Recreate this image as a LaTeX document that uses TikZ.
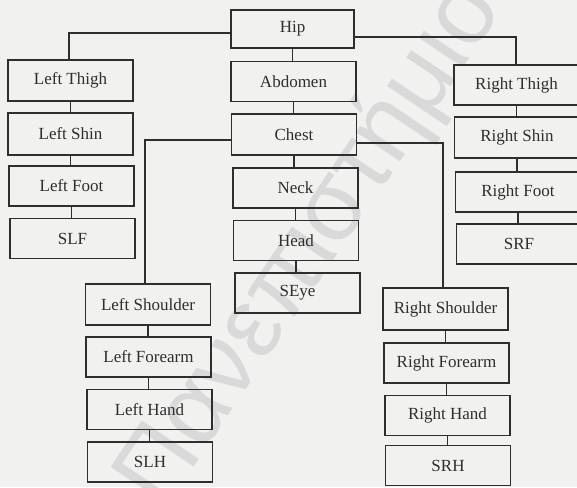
\documentclass[tikz,border=0pt]{standalone}
\usepackage{fontspec}
\setmainfont{Liberation Serif}
\newfontfamily\wmfont{Liberation Sans}
\definecolor{bg}{HTML}{F1F1F0}
\definecolor{ink}{HTML}{2E2E2E}
\definecolor{wm}{HTML}{D9D9D9}
\begin{document}
\begin{tikzpicture}[x=1pt,y=-1pt,
  part/.style={draw=ink,line width=1.3pt,minimum width=125pt,minimum height=40pt,
    inner sep=0pt,text=ink,font=\fontsize{17}{20}\selectfont},
  link/.style={draw=ink,line width=1.3pt}]
\fill[bg] (0,0) rectangle (577,487);
\useasboundingbox (0,0) rectangle (577,487);
\begin{scope}
\clip (0,0) rectangle (577,487);
\node[text=wm,font=\wmfont\fontsize{100}{110}\selectfont,rotate=56,anchor=base west,inner sep=0pt] (wmark) at (163,513) {Πανεπιστήμιο};
\end{scope}
% spine
\node[part,minimum width=123pt,minimum height=38pt] (hip) at (292.5,29) {Hip};
\node[part] (abd) at (293.5,81.5) {Abdomen};
\node[part,minimum height=41pt] (chest) at (294,134.5) {Chest};
\node[part] (neck) at (295.5,188) {Neck};
\node[part] (head) at (296,240.5) {Head};
\node[part] (seye) at (297.5,293) {SEye};
% left leg
\node[part,minimum height=41pt] (lthigh) at (70.5,80.5) {Left Thigh};
\node[part,minimum height=42pt] (lshin) at (70.5,134) {Left Shin};
\node[part] (lfoot) at (71.5,186) {Left Foot};
\node[part] (slf) at (72.5,238.5) {SLF};
% right leg
\node[part] (rthigh) at (516.5,85) {Right Thigh};
\node[part,minimum height=41pt] (rshin) at (517,137.5) {Right Shin};
\node[part] (rfoot) at (518,192) {Right Foot};
\node[part] (srf) at (519,244) {SRF};
% left arm
\node[part,minimum height=41pt] (lsho) at (148,304.5) {Left Shoulder};
\node[part] (lfore) at (148.5,357) {Left Forearm};
\node[part] (lhand) at (149.5,409.5) {Left Hand};
\node[part] (slh) at (150,462) {SLH};
% right arm
\node[part,minimum height=42pt] (rsho) at (445.5,309) {Right Shoulder};
\node[part] (rfore) at (446.5,363) {Right Forearm};
\node[part] (rhand) at (447.5,415.5) {Right Hand};
\node[part] (srh) at (448,465.5) {SRH};
% connectors
\draw[link] (hip.south) -- (hip.south |- abd.north);
\draw[link] (abd.south) -- (abd.south |- chest.north);
\draw[link] (chest.south) -- (chest.south |- neck.north);
\draw[link] (neck.south) -- (neck.south |- head.north);
\draw[link] (head.south) -- (head.south |- seye.north);
\draw[link] ([yshift=-4pt]hip.west) -| ([xshift=-1.5pt]lthigh.north);
\draw[link] ([yshift=-8pt]hip.east) -| ([xshift=-0.5pt]rthigh.north);
\draw[link] ([yshift=-5.5pt]chest.west) -| ([xshift=-3pt]lsho.north);
\draw[link] ([yshift=-8.5pt]chest.east) -| ([xshift=-2.5pt]rsho.north);
\draw[link] (lthigh.south) -- (lthigh.south |- lshin.north);
\draw[link] (lshin.south) -- (lshin.south |- lfoot.north);
\draw[link] (lfoot.south) -- (lfoot.south |- slf.north);
\draw[link] (rthigh.south) -- (rthigh.south |- rshin.north);
\draw[link] (rshin.south) -- (rshin.south |- rfoot.north);
\draw[link] (rfoot.south) -- (rfoot.south |- srf.north);
\draw[link] (lsho.south) -- (lsho.south |- lfore.north);
\draw[link] (lfore.south) -- (lfore.south |- lhand.north);
\draw[link] (lhand.south) -- (lhand.south |- slh.north);
\draw[link] (rsho.south) -- (rsho.south |- rfore.north);
\draw[link] (rfore.south) -- (rfore.south |- rhand.north);
\draw[link] (rhand.south) -- (rhand.south |- srh.north);
\end{tikzpicture}
\end{document}
